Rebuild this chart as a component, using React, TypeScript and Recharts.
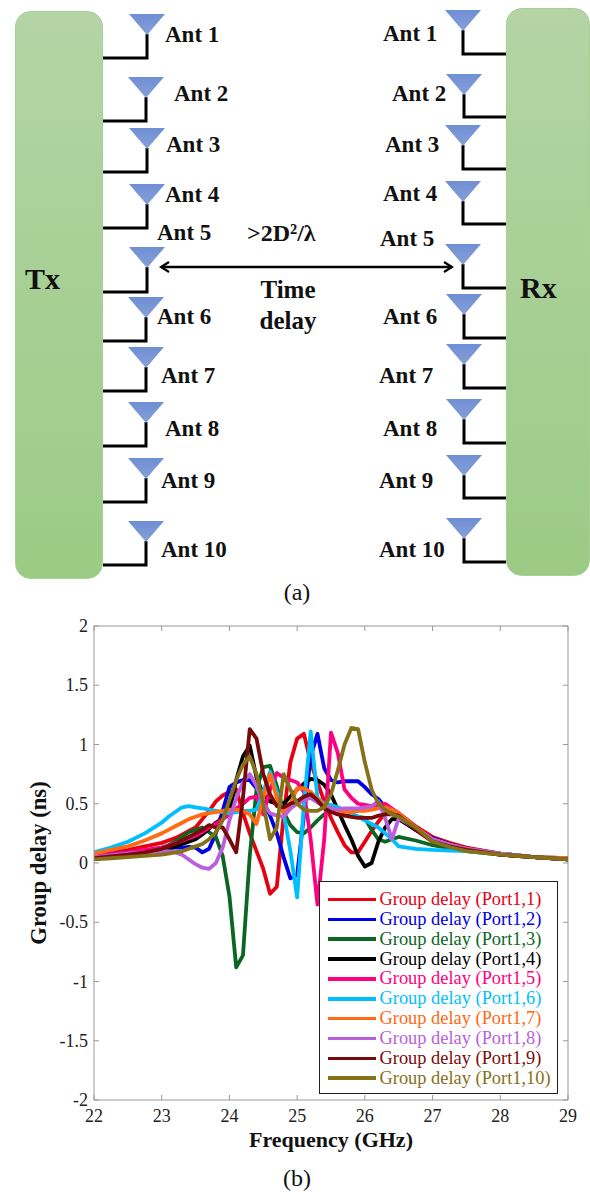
import { LineChart, Line, XAxis, YAxis, ReferenceLine } from "recharts";

const SERIF = '"Liberation Serif", "Times New Roman", serif';

// ---- group delay data ----
const freq = [
  22, 22.25, 22.5, 22.75, 23, 23.1, 23.2, 23.3, 23.4,
  23.5, 23.6, 23.7, 23.8, 23.9,
  24, 24.1, 24.2, 24.3, 24.4, 24.5, 24.6, 24.7, 24.8, 24.9,
  25, 25.1, 25.2, 25.3, 25.4, 25.5, 25.6, 25.7, 25.8, 25.9,
  26, 26.1, 26.2, 26.3, 26.4, 26.5,
  26.75, 27, 27.25, 27.5, 28, 28.5, 29,
];

const port1 = [
  0.07, 0.09, 0.11, 0.14, 0.17, 0.19, 0.21, 0.24, 0.27,
  0.3, 0.37, 0.44, 0.52, 0.57,
  0.6, 0.62, 0.42, 0.25, 0.1, -0.05, -0.26, -0.2, 0.4, 0.85,
  1.05, 1.09, 0.85, 0.68, 0.52, 0.38, 0.26, 0.15, 0.09, 0.09,
  0.18, 0.27, 0.35, 0.42, 0.45, 0.42,
  0.31, 0.22, 0.17, 0.13, 0.08, 0.05, 0.04,
];
const port2 = [
  0.06, 0.075, 0.09, 0.105, 0.12, 0.125, 0.13, 0.13, 0.135,
  0.13, 0.09, 0.12, 0.25, 0.44,
  0.64, 0.68, 0.7, 0.7, 0.63, 0.52, 0.4, 0.25, 0.05, -0.13,
  -0.1, 0.4, 0.9, 1.09, 0.8, 0.7, 0.68, 0.69, 0.69, 0.69,
  0.64, 0.58, 0.54, 0.47, 0.42, 0.38,
  0.28, 0.21, 0.16, 0.12, 0.08, 0.05, 0.03,
];
const port3 = [
  0.05, 0.065, 0.08, 0.1, 0.13, 0.15, 0.18, 0.22, 0.26,
  0.28, 0.3, 0.26, 0.22, 0.06,
  -0.28, -0.88, -0.78, 0.06, 0.62, 0.81, 0.82, 0.65, 0.43, 0.32,
  0.26, 0.25, 0.3, 0.36, 0.41, 0.44, 0.43, 0.43, 0.41, 0.39,
  0.38, 0.28, 0.2, 0.18, 0.2, 0.22,
  0.19, 0.15, 0.125, 0.1, 0.07, 0.05, 0.03,
];
const port4 = [
  0.05, 0.065, 0.08, 0.09, 0.11, 0.125, 0.14, 0.16, 0.18,
  0.2, 0.24, 0.29, 0.34, 0.38,
  0.42, 0.7, 0.9, 0.99, 0.72, 0.58, 0.52, 0.5, 0.5, 0.56,
  0.62, 0.67, 0.71, 0.7, 0.66, 0.58, 0.45, 0.32, 0.2, 0.06,
  -0.03, 0.0, 0.18, 0.3, 0.37, 0.37,
  0.28, 0.2, 0.155, 0.12, 0.07, 0.05, 0.03,
];
const port5 = [
  0.06, 0.075, 0.09, 0.11, 0.13, 0.145, 0.165, 0.185, 0.21,
  0.23, 0.26, 0.3, 0.33, 0.37,
  0.41, 0.46, 0.5, 0.55, 0.56, 0.41, 0.62, 0.76, 0.72, 0.7,
  0.68, 0.6, 0.2, -0.35, 0.2, 1.1, 0.93, 0.62, 0.55, 0.5,
  0.49, 0.48, 0.49, 0.5, 0.46, 0.42,
  0.3, 0.2, 0.155, 0.12, 0.08, 0.05, 0.03,
];
const port6 = [
  0.09, 0.13, 0.18, 0.25, 0.34, 0.39, 0.43, 0.47, 0.48,
  0.47, 0.46, 0.45, 0.44, 0.43,
  0.42, 0.43, 0.44, 0.44, 0.45, 0.6, 0.77, 0.6, 0.42, 0.1,
  -0.29, 0.5, 1.11, 0.55, 0.5, 0.49, 0.47, 0.45, 0.42, 0.39,
  0.36, 0.33, 0.3, 0.25, 0.2, 0.14,
  0.12, 0.11, 0.105, 0.1, 0.08, 0.05, 0.04,
];
const port7 = [
  0.08, 0.11, 0.14, 0.19, 0.25, 0.28, 0.31, 0.34, 0.37,
  0.39, 0.41, 0.42, 0.43, 0.44,
  0.45, 0.45, 0.44, 0.41, 0.33, 0.55, 0.75, 0.55, 0.42, 0.5,
  0.63, 0.63, 0.6, 0.54, 0.49, 0.46, 0.44, 0.43, 0.43, 0.44,
  0.44, 0.45, 0.46, 0.47, 0.45, 0.42,
  0.3, 0.2, 0.155, 0.12, 0.08, 0.05, 0.04,
];
const port8 = [
  0.05, 0.065, 0.08, 0.09, 0.1, 0.1, 0.09, 0.07, 0.03,
  -0.01, -0.04, -0.05, 0.0, 0.13,
  0.36, 0.55, 0.68, 0.75, 0.65, 0.5, 0.42, 0.4, 0.39, 0.46,
  0.5, 0.53, 0.55, 0.51, 0.48, 0.46, 0.45, 0.46, 0.46, 0.46,
  0.47, 0.48, 0.52, 0.38, 0.2, 0.38,
  0.29, 0.2, 0.155, 0.12, 0.08, 0.05, 0.03,
];
const port9 = [
  0.04, 0.055, 0.07, 0.09, 0.12, 0.14, 0.16, 0.19, 0.22,
  0.25, 0.28, 0.32, 0.3, 0.3,
  0.2, 0.09, 0.55, 1.13, 1.05, 0.75, 0.58, 0.48, 0.47, 0.5,
  0.52, 0.56, 0.58, 0.53, 0.46, 0.43, 0.41, 0.4, 0.39, 0.38,
  0.38, 0.38, 0.4, 0.41, 0.41, 0.4,
  0.28, 0.18, 0.14, 0.11, 0.07, 0.05, 0.03,
];
const port10 = [
  0.03, 0.04, 0.05, 0.06, 0.07, 0.08, 0.09, 0.1, 0.12,
  0.14, 0.16, 0.2, 0.26, 0.36,
  0.53, 0.7, 0.83, 0.9, 0.75, 0.5, 0.2, 0.3, 0.75, 0.62,
  0.5, 0.45, 0.44, 0.44, 0.47, 0.58, 0.78, 1.0, 1.14, 1.13,
  0.85, 0.62, 0.5, 0.45, 0.41, 0.39,
  0.3, 0.18, 0.135, 0.1, 0.07, 0.05, 0.03,
];

const seriesNames = [
  "Group delay (Port1,1)", "Group delay (Port1,2)", "Group delay (Port1,3)", "Group delay (Port1,4)",
  "Group delay (Port1,5)", "Group delay (Port1,6)", "Group delay (Port1,7)", "Group delay (Port1,8)",
  "Group delay (Port1,9)", "Group delay (Port1,10)",
];
const seriesValues = [port1, port2, port3, port4, port5, port6, port7, port8, port9, port10];
const seriesColors = [
  "#e60012", "#0000e6", "#0b6623", "#000000", "#ff0080",
  "#00bfff", "#ff6a13", "#b95fdc", "#7a0a0a", "#857118",
];

const xTicks = [22, 23, 24, 25, 26, 27, 28, 29];
const yTicks = [-2, -1.5, -1, -0.5, 0, 0.5, 1, 1.5, 2];

const tableData = freq.map((f, i) => {
  const row: Record<string, number> = { f };
  seriesNames.forEach((name, s) => {
    row[name] = seriesValues[s][i];
  });
  return row;
});

// ---- block diagram labels ----
const txAnts = [
  { label: "Ant 1", cx: 147, top: 14, bottom: 58, lx: 165, ly: 34 },
  { label: "Ant 2", cx: 146, top: 77, bottom: 121, lx: 174, ly: 93 },
  { label: "Ant 3", cx: 147, top: 128, bottom: 172, lx: 166, ly: 144 },
  { label: "Ant 4", cx: 147, top: 184, bottom: 228, lx: 165, ly: 194 },
  { label: "Ant 5", cx: 147, top: 247, bottom: 292, lx: 157, ly: 232 },
  { label: "Ant 6", cx: 146, top: 297, bottom: 341, lx: 157, ly: 316 },
  { label: "Ant 7", cx: 146, top: 347, bottom: 391, lx: 161, ly: 375 },
  { label: "Ant 8", cx: 146, top: 402, bottom: 446, lx: 165, ly: 428 },
  { label: "Ant 9", cx: 146, top: 458, bottom: 502, lx: 161, ly: 480 },
  { label: "Ant 10", cx: 146, top: 521, bottom: 565, lx: 161, ly: 549 },
];
const rxAnts = [
  { label: "Ant 1", cx: 463, top: 10, bottom: 54, lx: 383, ly: 33 },
  { label: "Ant 2", cx: 464, top: 74, bottom: 117, lx: 392, ly: 93 },
  { label: "Ant 3", cx: 463, top: 125, bottom: 169, lx: 385, ly: 144 },
  { label: "Ant 4", cx: 463, top: 181, bottom: 224, lx: 383, ly: 193 },
  { label: "Ant 5", cx: 463, top: 244, bottom: 288, lx: 380, ly: 238 },
  { label: "Ant 6", cx: 464, top: 294, bottom: 338, lx: 383, ly: 316 },
  { label: "Ant 7", cx: 464, top: 344, bottom: 388, lx: 379, ly: 375 },
  { label: "Ant 8", cx: 464, top: 399, bottom: 443, lx: 383, ly: 428 },
  { label: "Ant 9", cx: 464, top: 455, bottom: 498, lx: 379, ly: 480 },
  { label: "Ant 10", cx: 464, top: 518, bottom: 562, lx: 379, ly: 549 },
];

const Antenna = ({ a, boxX }: { a: (typeof txAnts)[0]; boxX: number }) => (
  <g>
    <polyline
      points={`${a.cx},${a.top + 20} ${a.cx},${a.bottom} ${boxX},${a.bottom}`}
      fill="none"
      stroke="#000"
      strokeWidth={3}
    />
    <polygon points={`${a.cx - 18},${a.top} ${a.cx + 18},${a.top} ${a.cx},${a.top + 21}`} fill="url(#antFill)" />
    <text x={a.lx} y={a.ly} dominantBaseline="central" fontWeight="bold" fontSize={23} fill="#111">
      {a.label}
    </text>
  </g>
);

const Diagram = () => (
  <svg width={590} height={612} style={{ position: "absolute", left: 0, top: 0, fontFamily: SERIF }}>
    <defs>
      <linearGradient id="boxFill" x1="0" y1="0" x2="0" y2="1">
        <stop offset="0" stopColor="#b4d4a5" />
        <stop offset="1" stopColor="#9bcb85" />
      </linearGradient>
      <linearGradient id="antFill" x1="0" y1="0" x2="0" y2="1">
        <stop offset="0" stopColor="#6f8fd4" />
        <stop offset="1" stopColor="#86a0d8" />
      </linearGradient>
      <marker id="head" markerUnits="userSpaceOnUse" markerWidth="12" markerHeight="14" refX="10" refY="7" orient="auto-start-reverse">
        <path d="M2,2 L10,7 L2,12" fill="none" stroke="#000" strokeWidth={2.2} />
      </marker>
    </defs>
    <rect x={15.5} y={11.5} width={87} height={567} rx={15} fill="url(#boxFill)" stroke="#a9d094" />
    <rect x={506.5} y={8.5} width={83} height={567} rx={15} fill="url(#boxFill)" stroke="#a9d094" />
    {txAnts.map((a) => (
      <Antenna key={"t" + a.label} a={a} boxX={103} />
    ))}
    {rxAnts.map((a) => (
      <Antenna key={"r" + a.label} a={a} boxX={506} />
    ))}
    <line x1={161} y1={267} x2={452} y2={267} stroke="#000" strokeWidth={2.4} markerStart="url(#head)" markerEnd="url(#head)" />
    <text x={25} y={278} dominantBaseline="central" fontWeight="bold" fontSize={30} fill="#111">Tx</text>
    <text x={520} y={287} dominantBaseline="central" fontWeight="bold" fontSize={30} fill="#111">Rx</text>
    <text x={247} y={233} dominantBaseline="central" fontWeight="bold" fontSize={24} fill="#111">{">2D²/λ"}</text>
    <text x={288} y={289} textAnchor="middle" dominantBaseline="central" fontWeight="bold" fontSize={25} fill="#111">Time</text>
    <text x={288} y={320} textAnchor="middle" dominantBaseline="central" fontWeight="bold" fontSize={25} fill="#111">delay</text>
    <text x={297} y={592} textAnchor="middle" dominantBaseline="central" fontSize={24} fill="#111">(a)</text>
  </svg>
);

const XTick = ({ x, y, payload }: any) => (
  <g>
    <line x1={x} y1={y} x2={x} y2={y - 5} stroke="#999" />
    <line x1={x} y1={626} x2={x} y2={631} stroke="#999" />
    <text x={x} y={y + 16} textAnchor="middle" dominantBaseline="central" fontSize={18} fill="#222" fontFamily={SERIF}>
      {payload.value}
    </text>
  </g>
);

const YTick = ({ x, y, payload }: any) => (
  <g>
    <line x1={x} y1={y} x2={x + 5} y2={y} stroke="#999" />
    <line x1={563} y1={y} x2={568} y2={y} stroke="#999" />
    <text x={x - 6} y={y} textAnchor="end" dominantBaseline="central" fontSize={18} fill="#222" fontFamily={SERIF}>
      {payload.value}
    </text>
  </g>
);

const LegendBox = () => (
  <div
    style={{
      position: "absolute",
      left: 319,
      top: 881,
      width: 239,
      height: 213,
      boxSizing: "border-box",
      border: "1.5px solid #222",
      background: "#fff",
      fontFamily: SERIF,
      fontSize: 18.4,
    }}
  >
    {seriesNames.map((name, i) => (
      <div key={name} style={{ position: "absolute", left: 8, top: 7.5 + i * 19.85, height: 20, display: "flex", alignItems: "center", whiteSpace: "nowrap", color: seriesColors[i] }}>
        <span style={{ display: "inline-block", width: 48, height: 3.5, background: seriesColors[i], marginRight: 3.5 }} />
        {name}
      </div>
    ))}
  </div>
);

export default function App() {
  return (
    <div style={{ position: "absolute", left: 0, top: 0, width: 590, height: 1192, background: "#fff", overflow: "hidden" }}>
      <Diagram />
      <div style={{ position: "absolute", left: 0, top: 0 }}>
        <LineChart width={590} height={1192} data={tableData} margin={{ top: 626, right: 22, bottom: 0, left: 0 }}>
          <XAxis
            dataKey="f"
            type="number"
            domain={[22, 29]}
            ticks={xTicks}
            height={92}
            stroke="#999"
            tick={<XTick />}
            tickSize={0}
            tickMargin={0}
            tickLine={false}
            interval={0}
            allowDataOverflow
            label={{ value: "Frequency (GHz)", position: "insideTop", offset: 31, fontFamily: SERIF, fontWeight: "bold", fontSize: 22, fill: "#111" }}
          />
          <YAxis
            type="number"
            domain={[-2, 2]}
            ticks={yTicks}
            width={94}
            stroke="#999"
            tick={<YTick />}
            tickSize={0}
            tickMargin={0}
            tickLine={false}
            interval={0}
            allowDataOverflow
            label={{ value: "Group delay (ns)", angle: -90, position: "insideLeft", offset: 38, fontFamily: SERIF, fontWeight: "bold", fontSize: 22.7, fill: "#111", style: { textAnchor: "middle" } }}
          />
          <ReferenceLine y={2} stroke="#999" />
          <ReferenceLine x={29} stroke="#999" />
          {seriesNames.map((name, i) => (
            <Line
              key={name}
              dataKey={name}
              type="linear"
              stroke={seriesColors[i]}
              strokeWidth={3.8}
              strokeLinejoin="round"
              dot={false}
              activeDot={false}
              isAnimationActive={false}
            />
          ))}
        </LineChart>
      </div>
      <LegendBox />
      <div style={{ position: "absolute", left: 0, width: 594, top: 1165, textAlign: "center", fontFamily: SERIF, fontSize: 24, color: "#111" }}>(b)</div>
    </div>
  );
}
